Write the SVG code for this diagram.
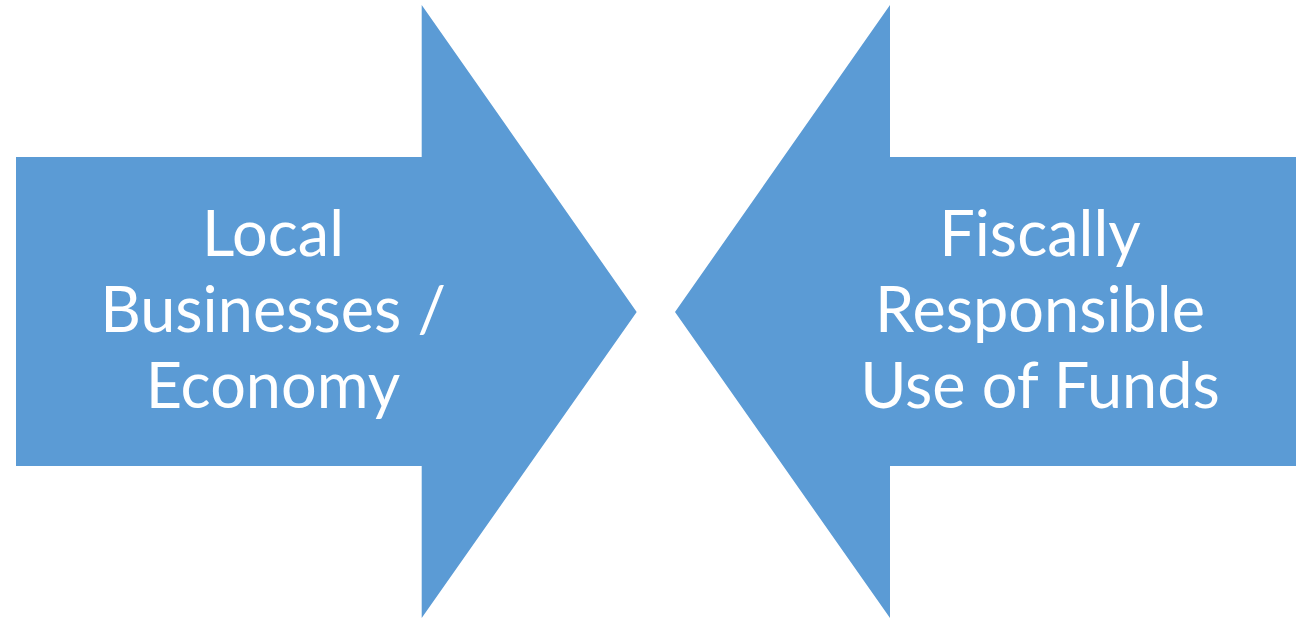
<svg xmlns="http://www.w3.org/2000/svg" width="1302" height="621" viewBox="0 0 1302 621">
<style>
.arrow{fill:#5B9BD5;}
.lbl{font-family:Lato,"Open Sans","Liberation Sans",sans-serif;font-size:63px;fill:#FFFFFF;text-anchor:middle;}
</style>
<rect width="1302" height="621" fill="#FFFFFF"/>
<g id="node-left">
<polygon class="arrow" points="16,157 421.7,157 421.7,5 636.7,312 421.7,618 421.7,466 16,466"/>
<text class="lbl" x="273" y="256">Local</text>
<text class="lbl" x="273" y="332">Businesses /</text>
<text class="lbl" x="273" y="408">Economy</text>
</g>
<g id="node-right">
<polygon class="arrow" points="1296,157 890,157 890,5 675,312 890,618 890,466 1296,466"/>
<text class="lbl" x="1040" y="256">Fiscally</text>
<text class="lbl" x="1040" y="332">Responsible</text>
<text class="lbl" x="1040" y="408">Use of Funds</text>
</g>
<g id="connectors"></g>
</svg>
